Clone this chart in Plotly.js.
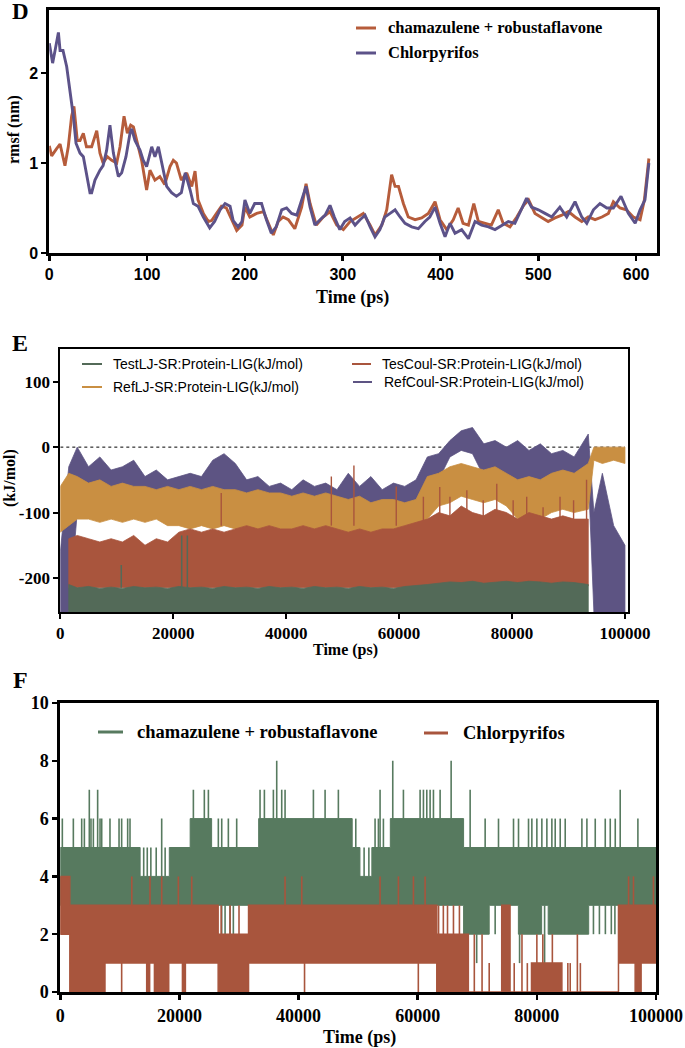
<!DOCTYPE html>
<html><head><meta charset="utf-8">
<script src="https://cdn.plot.ly/plotly-3.0.1.min.js"></script>
<style>html,body{margin:0;padding:0;background:#fff}#chart{width:685px;height:1048px}</style>
</head><body><div id="chart"></div>
<script>
// ---------- Panel D : rmsf ----------
const dTimeCham = [0,2.4,7.5,11,16,19.4,22.8,25.2,28.6,31.4,34.8,38,43.3,48.5,51.8,55,59.3,63.8,68.9,72.3,76.4,79.8,83.2,86,91,94.4,99.5,102.9,108,113,118,123.4,126.8,130,135,140.5,145.6,149,152,157.5,162.6,166,171,176,181,186,191.6,197,
200,205,212,219,224,229,234,239,244.4,251,258,262.5,266.6,273,280,287,293.8,300.6,307.5,314,321,328,333,340,345,350,353.5,357,362,367,374,380.7,387.5,394.4,399.5,406.3,413,418,423,428.5,434,438.7,445.5,452,459,464,471,478,485,490,496.6,503.4,510,517,524,530.7,537.5,544.4,551,558,565,571.6,576.7,583.5,590,597,604,608.4,613];
const dRmsfCham = [1.19,1.08,1.16,1.21,0.97,1.18,1.52,1.63,1.25,1.25,1.33,1.18,1.18,1.36,1.11,1.00,1.07,1.03,1.00,1.18,1.52,1.33,1.42,1.40,1.18,1.03,0.70,0.92,0.81,0.85,0.76,0.96,1.03,1.00,0.81,0.89,0.74,0.91,0.59,0.44,0.35,0.36,0.44,0.52,0.50,0.38,0.25,0.31,
0.51,0.40,0.44,0.46,0.33,0.20,0.35,0.40,0.37,0.27,0.51,0.77,0.55,0.31,0.40,0.46,0.31,0.26,0.35,0.39,0.44,0.31,0.20,0.31,0.48,0.87,0.74,0.74,0.55,0.40,0.37,0.39,0.44,0.57,0.37,0.26,0.37,0.50,0.33,0.31,0.55,0.35,0.33,0.31,0.48,0.33,0.29,0.40,0.53,0.59,0.44,0.39,0.35,0.39,0.42,0.46,0.40,0.35,0.40,0.37,0.40,0.44,0.57,0.50,0.48,0.40,0.37,0.59,1.05];
const dTimeChlor = [0,3.4,5.9,9.3,11,14,17.8,21,24.6,27.3,31.4,34.8,38,41.6,43.3,46.7,51.8,55,58.6,62,65.5,70.6,74,78.4,82.5,84.2,87.6,92.8,96,99.5,104.7,108,111.5,115,120,125,130,135,139,144,147.3,152,157.5,164,169,174.6,179.7,184.8,188,193,197,
200,205,210,217,222,227,232,237.6,242.6,247.7,253,258,262.5,266.6,271.6,276.8,282,287,291.4,297,302,307.5,312.6,317.7,322.8,328,333,338,343,348.4,353.5,358.6,363.7,370.5,377.3,384,389,394.4,399.5,404.6,409.7,414.8,421.6,428.5,435.3,442,449,455.7,462.5,469.3,476,483,488,493,500,506.8,513.7,522,529,537.5,544.4,549.5,556.3,563,570,576.7,584.5,592,599,604,609,613];
const dRmsfChlor = [2.33,2.11,2.25,2.45,2.25,2.25,2.07,1.81,1.52,1.22,1.11,1.07,0.89,0.67,0.67,0.81,0.92,0.97,1.14,1.42,1.11,0.85,0.89,1.07,1.33,1.38,1.25,1.14,1.03,0.96,1.18,1.07,1.18,1.00,0.74,0.67,0.63,0.67,0.89,0.70,0.55,0.52,0.40,0.28,0.35,0.48,0.55,0.52,0.36,0.29,0.35,
0.59,0.44,0.55,0.55,0.37,0.22,0.29,0.48,0.50,0.44,0.42,0.59,0.74,0.51,0.31,0.37,0.42,0.53,0.40,0.26,0.35,0.39,0.31,0.37,0.42,0.29,0.18,0.26,0.40,0.44,0.48,0.40,0.33,0.29,0.27,0.35,0.40,0.51,0.33,0.18,0.33,0.22,0.26,0.16,0.35,0.31,0.29,0.26,0.31,0.35,0.33,0.50,0.61,0.51,0.48,0.44,0.40,0.51,0.40,0.57,0.40,0.33,0.48,0.55,0.50,0.50,0.63,0.44,0.33,0.48,0.59,1.0];
const dXTicks = [0,100,200,300,400,500,600];
const dYTicks = [0,1,2];
const dNames = ['chamazulene + robustaflavone','Chlorpyrifos'];

// ---------- Panel E : interaction energies (envelopes) ----------
const eTime = [0,1500,3000,5000,7000,9000,11000,13000,15000,17000,19000,21000,23000,25000,27000,29000,31000,33000,35000,37000,39000,41000,43000,45000,47000,49000,51000,53000,55000,57000,59000,61000,63000,65000,67000,69000,71000,73000,75000,77000,79000,81000,83000,85000,87000,89000,91000,93500,94500,96000,98000,100000];
const eRefCoulTop = [-160,-30,0,-30,-15,-35,-30,-20,-45,-35,-50,-45,-40,-45,-20,-10,-25,-50,-45,-60,-55,-65,-50,-60,-55,-65,-40,-60,-45,-65,-55,-60,-50,-15,-10,10,25,30,5,10,0,10,-5,5,-10,-5,-15,20,-100,-40,-120,-150];
const eRefCoulBot = [-252,-252,-100,-95,-95,-95,-95,-95,-95,-95,-100,-100,-100,-100,-100,-100,-100,-100,-100,-100,-100,-100,-100,-100,-100,-100,-100,-100,-100,-100,-100,-100,-100,-60,-50,-15,-5,-10,-45,-40,-50,-55,-50,-55,-45,-40,-45,-40,-252,-252,-252,-252];
const eRefLJTop = [-60,-40,-45,-55,-50,-60,-55,-60,-60,-65,-60,-65,-60,-65,-60,-65,-65,-70,-65,-70,-70,-75,-70,-75,-70,-75,-80,-75,-85,-80,-80,-85,-80,-45,-40,-30,-25,-30,-35,-30,-40,-50,-45,-50,-40,-35,-40,-25,0,0,0,0];
const eRefLJBot = [-130,-120,-110,-110,-115,-110,-115,-110,-115,-110,-120,-120,-125,-120,-125,-120,-125,-125,-125,-130,-125,-130,-125,-130,-130,-135,-135,-140,-140,-135,-140,-135,-140,-110,-90,-85,-75,-80,-85,-80,-90,-110,-105,-110,-100,-95,-100,-95,-20,-25,-20,-25];
const eTesCoulTop = [-160,-140,-135,-140,-145,-140,-145,-135,-150,-140,-145,-130,-125,-130,-125,-130,-125,-120,-125,-120,-125,-125,-120,-125,-120,-125,-130,-125,-130,-125,-125,-120,-115,-110,-100,-105,-90,-100,-105,-95,-100,-110,-100,-105,-110,-105,-110,-110];
const eTesCoulBot = [-215,-215,-215,-215,-215,-215,-215,-215,-215,-215,-215,-215,-215,-215,-215,-215,-215,-215,-215,-215,-215,-215,-215,-215,-215,-215,-215,-215,-215,-215,-215,-215,-215,-212,-212,-212,-212,-212,-212,-212,-212,-212,-212,-212,-212,-212,-212,-212];
const eTestLJTop = [-225,-210,-215,-213,-216,-214,-216,-213,-215,-214,-216,-213,-215,-214,-216,-213,-215,-214,-216,-213,-215,-214,-216,-213,-215,-214,-216,-213,-215,-214,-216,-213,-212,-210,-208,-206,-207,-205,-208,-206,-205,-207,-205,-206,-208,-206,-207,-210];
const eTestLJBot = [-252,-252,-252,-252,-252,-252,-252,-252,-252,-252,-252,-252,-252,-252,-252,-252,-252,-252,-252,-252,-252,-252,-252,-252,-252,-252,-252,-252,-252,-252,-252,-252,-252,-252,-252,-252,-252,-252,-252,-252,-252,-252,-252,-252,-252,-252,-252,-252];
const eTesCoulSpikeTime = [28500,48000,52000,59500,64300,67200,69000,72000,74900,77300,80200,82600,85500,88500,90900,93200];
const eTesCoulSpikeTop = [-70,-45,-28,-60,-76,-61,-76,-66,-81,-56,-81,-76,-92,-76,-81,-50];
const eTestLJSpikeTime = [10800,21500,22500];
const eTestLJSpikeTop = [-180,-135,-135];
const eXTicks = [0,20000,40000,60000,80000,100000];
const eXTickText = ['0','20000','40000','60000','80000','100000'];
const eYTickVals = [-200,-100,0,100];
const eYTickText = ['-200','-100','0','100'];
const eNames = ['TestLJ-SR:Protein-LIG(kJ/mol)','TesCoul-SR:Protein-LIG(kJ/mol)','RefLJ-SR:Protein-LIG(kJ/mol)','RefCoul-SR:Protein-LIG(kJ/mol)'];

// ---------- Panel F : hydrogen bonds (step levels) ----------
const fGreenEdges = [0,13400,18300,20700,21800,25400,33300,49000,50300,52300,55400,67700,72000,76900,80800,81900,88700,100000];
const fGreenLo = [3,3,3,3,3,3,3,3,3,3,3,2,3,2,3,2,3];
const fGreenHi = [5,4,5,5,6,5,6,5,4,5,6,5,5,5,5,5,5];
const fGreenUpTime = [340,2190,3590,4040,4870,5150,5550,6270,6670,6950,8340,9860,10300,11310,11700,14000,14600,15200,16100,17020,17600,22340,24180,24860,26530,27100,28210,29610,33530,34260,35770,36330,37170,37730,42490,44450,46680,49600,51000,51800,52840,53400,53680,54240,55810,57600,60400,60960,61520,62080,62640,63760,65610,68800,71320,73560,76080,76920,78600,79160,80000,80840,81680,82520,83080,83920,84760,87560,88400,89800,91480,92320,93160,93990,96960];
const fGreenUpVal = [6,6,6,6,7,6,6,7,6,6,6,6,6,6,6,5,5,5,5,6,5,7,7,7,6,6,6,6,7,7,7,8,7,7,7,7,7,6,5,5,6,6,7,6,8,7,7,7,7,7,7,7,8,7,6,6,6,6,6,6,6,6,6,6,6,6,6,6,6,6,6,6,6,7,6];
const fGreenDnTime = [2470,3030,4000,4430,5270,7230,7510,8070,8900,9460,10860,12540,13100,14220,15900,17860,19260,27100,27660,28490,29050,32690,69900,73000,74500,77100,81300,89500,90500,91500,92500,93100];
const fGreenDnVal = [2,1,1,2,2,2,2,2,2,2,2,2,2,2,2,2,2,2,2,2,2,2,1,2,2,1,1,2,2,2,2,2];
const fRedEdges = [0,1600,7500,14500,15000,15800,18200,20500,21000,26500,31600,63200,68500,74100,75500,79100,84200,93700,96500,97500,100000];
const fRedLo = [2,0,1,0,1,0,1,0,1,0,1,0,0,0,0,0,0,1,0,1];
const fRedHi = [4,3,3,3,3,3,3,3,3,2,3,2,0,3,0,1,0,3,3,3];
const fRedUpTime = [12000,15060,17020,19820,22060,37730,40530,53680,56760,59280,61240,95400,96220,99570,27000,28500,30000,63500,64300,65000,66000,67000,69500,70800,77500,80000,81000,82600,86800,72000,76200,78400,85200,85600,87300];
const fRedUpVal = [4,4,4,4,4,4,4,4,4,4,4,4,4,4,3,3,3,3,3,3,3,3,2,2,2,2,2,2,2,1,1,1,1,1,1];
const fRedDnTime = [10300,41000,60100];
const fRedDnVal = [0,0,0];
const fXTicks = [0,20000,40000,60000,80000,100000];
const fXTickText = ['0','20000','40000','60000','80000','100000'];
const fYTicks = [0,2,4,6,8,10];
const fNames = ['chamazulene + robustaflavone','Chlorpyrifos'];

// ---------- helpers ----------
function poly(xs, top, bot){
  const x=[], y=[];
  for(let i=0;i<top.length;i++){x.push(xs[i]); y.push(top[i]);}
  for(let i=bot.length-1;i>=0;i--){x.push(xs[i]); y.push(bot[i]);}
  x.push(xs[0]); y.push(top[0]);
  return {x,y};
}
function stepPoly(edges, lo, hi){
  const x=[], y=[];
  for(let i=0;i<hi.length;i++){x.push(edges[i],edges[i+1]); y.push(hi[i],hi[i]);}
  for(let i=lo.length-1;i>=0;i--){x.push(edges[i+1],edges[i]); y.push(lo[i],lo[i]);}
  x.push(edges[0]); y.push(hi[0]);
  return {x,y};
}
function coreAt(edges, arr, t){
  for(let i=0;i<arr.length;i++){ if(t>=edges[i] && t<edges[i+1]) return arr[i]; }
  return arr[arr.length-1];
}
function spikes(ts, vs, baseFn){
  const x=[], y=[];
  for(let k=0;k<ts.length;k++){x.push(ts[k],ts[k],null); y.push(baseFn(ts[k],k),vs[k],null);}
  return {x,y};
}

const C = {
  dCham:'#b65c3b', dChlor:'#5c5289',
  eTestLJ:'#536a58', eRefLJ:'#c98f42', eTesCoul:'#a9553d', eRefCoul:'#5d5483',
  fGreen:'#577a5f', fRed:'#a8553d'
};
const serif = 'Liberation Serif, Times New Roman, serif';
const sans = 'Liberation Sans, Arial, sans-serif';

const traces = [];
// D
traces.push({x:dTimeCham, y:dRmsfCham, xaxis:'x', yaxis:'y', mode:'lines', name:dNames[0], line:{color:C.dCham, width:2.9}, showlegend:false});
traces.push({x:dTimeChlor, y:dRmsfChlor, xaxis:'x', yaxis:'y', mode:'lines', name:dNames[1], line:{color:C.dChlor, width:2.9}, showlegend:false});

// E bands
function eBand(top, bot, color, i0, name){
  const xs = eTime.slice(i0, i0+top.length);
  const p = poly(xs, top, bot);
  return {x:p.x, y:p.y, xaxis:'x2', yaxis:'y2', mode:'lines', name:name, fill:'toself', fillcolor:color, line:{color:color, width:0.8}, showlegend:false, hoverinfo:'skip'};
}
traces.push(eBand(eRefCoulTop, eRefCoulBot, C.eRefCoul, 0, eNames[3]));
traces.push(eBand(eRefLJTop, eRefLJBot, C.eRefLJ, 0, eNames[2]));
const rs = spikes(eTesCoulSpikeTime, eTesCoulSpikeTop, t=>-120);
traces.push({x:rs.x, y:rs.y, xaxis:'x2', yaxis:'y2', mode:'lines', line:{color:C.eTesCoul, width:1.4}, showlegend:false, hoverinfo:'skip'});
traces.push(eBand(eTesCoulTop.slice(1), eTesCoulBot.slice(1), C.eTesCoul, 1, eNames[1]));
traces.push(eBand(eTestLJTop.slice(1), eTestLJBot.slice(1), C.eTestLJ, 1, eNames[0]));
const gs = spikes(eTestLJSpikeTime, eTestLJSpikeTop, ()=>-215);
traces.push({x:gs.x, y:gs.y, xaxis:'x2', yaxis:'y2', mode:'lines', line:{color:C.eTestLJ, width:1.5}, showlegend:false, hoverinfo:'skip'});

// F
const gp = stepPoly(fGreenEdges, fGreenLo, fGreenHi);
traces.push({x:gp.x, y:gp.y, xaxis:'x3', yaxis:'y3', mode:'lines', name:fNames[0], fill:'toself', fillcolor:C.fGreen, line:{color:C.fGreen, width:1}, showlegend:false, hoverinfo:'skip'});
const gu = spikes(fGreenUpTime, fGreenUpVal, t=>coreAt(fGreenEdges, fGreenHi, t));
traces.push({x:gu.x, y:gu.y, xaxis:'x3', yaxis:'y3', mode:'lines', line:{color:C.fGreen, width:1.6}, showlegend:false, hoverinfo:'skip'});
const gd = spikes(fGreenDnTime, fGreenDnVal, t=>coreAt(fGreenEdges, fGreenLo, t));
traces.push({x:gd.x, y:gd.y, xaxis:'x3', yaxis:'y3', mode:'lines', line:{color:C.fGreen, width:1.6}, showlegend:false, hoverinfo:'skip'});
const rp = stepPoly(fRedEdges, fRedLo, fRedHi);
traces.push({x:rp.x, y:rp.y, xaxis:'x3', yaxis:'y3', mode:'lines', name:fNames[1], fill:'toself', fillcolor:C.fRed, line:{color:C.fRed, width:1.5}, showlegend:false, hoverinfo:'skip'});
const ru = spikes(fRedUpTime, fRedUpVal, t=>coreAt(fRedEdges, fRedHi, t));
traces.push({x:ru.x, y:ru.y, xaxis:'x3', yaxis:'y3', mode:'lines', line:{color:C.fRed, width:1.6}, showlegend:false, hoverinfo:'skip'});
const rd = spikes(fRedDnTime, fRedDnVal, t=>coreAt(fRedEdges, fRedLo, t));
traces.push({x:rd.x, y:rd.y, xaxis:'x3', yaxis:'y3', mode:'lines', line:{color:C.fRed, width:1.6}, showlegend:false, hoverinfo:'skip'});

function ax(o){
  return Object.assign({showline:true, linecolor:'#000', mirror:true, ticks:'outside', tickcolor:'#000', showgrid:false, zeroline:false, fixedrange:true}, o);
}
const W=685, H=1048;
const px = v => v/W, py = v => 1 - v/H;

// legend keys drawn as paper shapes + text annotations
const shapes = [{type:'line', xref:'x2', yref:'y2', x0:0, x1:100000, y0:0, y1:0, layer:'below', line:{color:'#000', width:1, dash:'dot'}}];
const annotations = [];
function key(x0, x1, y, tx, color, lw, text, font){
  shapes.push({type:'line', xref:'paper', yref:'paper', x0:px(x0), x1:px(x1), y0:py(y), y1:py(y), line:{color:color, width:lw}});
  annotations.push({text:text, x:px(tx), y:py(y), xref:'paper', yref:'paper', xanchor:'left', yanchor:'middle', showarrow:false, font:font});
}
const fD = {family:serif, size:16.5, weight:'bold', color:'#000'};
const fE = {family:sans, size:14, color:'#000'};
const fF = {family:serif, size:18.5, weight:'bold', color:'#000'};
key(356, 376, 28, 386, C.dCham, 3, dNames[0], fD);
key(356, 376, 53, 386, C.dChlor, 3, dNames[1], fD);
key(82, 102, 364, 111, C.eTestLJ, 2, eNames[0], fE);
key(352, 371, 364, 380, C.eTesCoul, 2, eNames[1], fE);
key(82, 102, 387, 111, C.eRefLJ, 2, eNames[2], fE);
key(353, 372, 382, 382, C.eRefCoul, 2, eNames[3], fE);
key(98, 123, 732, 135, C.fGreen, 3, fNames[0], fF);
key(424, 448, 733, 461, C.fRed, 3, fNames[1], fF);

function label(text, x, y, size, angle){
  annotations.push({text:text, x:px(x), y:py(y), xref:'paper', yref:'paper', xanchor:'center', yanchor:'middle', showarrow:false, textangle:angle||0, font:{family:serif, size:size, weight:'bold', color:'#000'}});
}
label('D', 20, 11, 23);
label('E', 20, 343, 24);
label('F', 20, 680, 24);
label('Time (ps)', 353, 297, 18);
label('rmsf (nm)', 14, 130, 16, -90);
label('Time (ps)', 345, 650, 16);
label('(kJ/mol)', 10, 478, 16, -90);
label('Time (ps)', 359, 1037, 18);

const layout = {
  width:W, height:H, margin:{l:0,r:0,t:0,b:0}, paper_bgcolor:'#fff', plot_bgcolor:'rgba(0,0,0,0)', showlegend:false,
  xaxis: ax({domain:[px(49.3), px(656.7)], range:[0,621], tickvals:dXTicks, linewidth:3, ticklen:5, tickwidth:2.5, anchor:'y', tickfont:{family:sans, size:16, weight:'bold', color:'#000'}}),
  yaxis: ax({domain:[py(253), py(10)], range:[0,2.7], tickvals:dYTicks, linewidth:3, ticklen:5, tickwidth:2.5, anchor:'x', tickfont:{family:sans, size:16, weight:'bold', color:'#000'}}),
  xaxis2: ax({domain:[px(60.3), px(627.5)], range:[0,100450], tickvals:eXTicks, ticktext:eXTickText, linewidth:2, ticklen:5, tickwidth:2, anchor:'y2', tickfont:{family:serif, size:17, weight:'bold', color:'#000'}}),
  yaxis2: ax({domain:[py(612), py(349)], range:[-252,150], tickvals:eYTickVals, ticktext:eYTickText, linewidth:2, ticklen:5, tickwidth:2, anchor:'x2', tickfont:{family:serif, size:17, weight:'bold', color:'#000'}}),
  xaxis3: ax({domain:[px(60.3), px(656)], range:[0,100000], tickvals:fXTicks, ticktext:fXTickText, linewidth:3, ticklen:5, tickwidth:2.5, anchor:'y3', tickfont:{family:serif, size:18, weight:'bold', color:'#000'}}),
  yaxis3: ax({domain:[py(992), py(703)], range:[0,10], tickvals:fYTicks, linewidth:3, ticklen:5, tickwidth:2.5, anchor:'x3', tickfont:{family:serif, size:18, weight:'bold', color:'#000'}}),
  shapes: shapes,
  annotations: annotations
};
Plotly.newPlot('chart', traces, layout, {staticPlot:true, displayModeBar:false});
</script></body></html>
